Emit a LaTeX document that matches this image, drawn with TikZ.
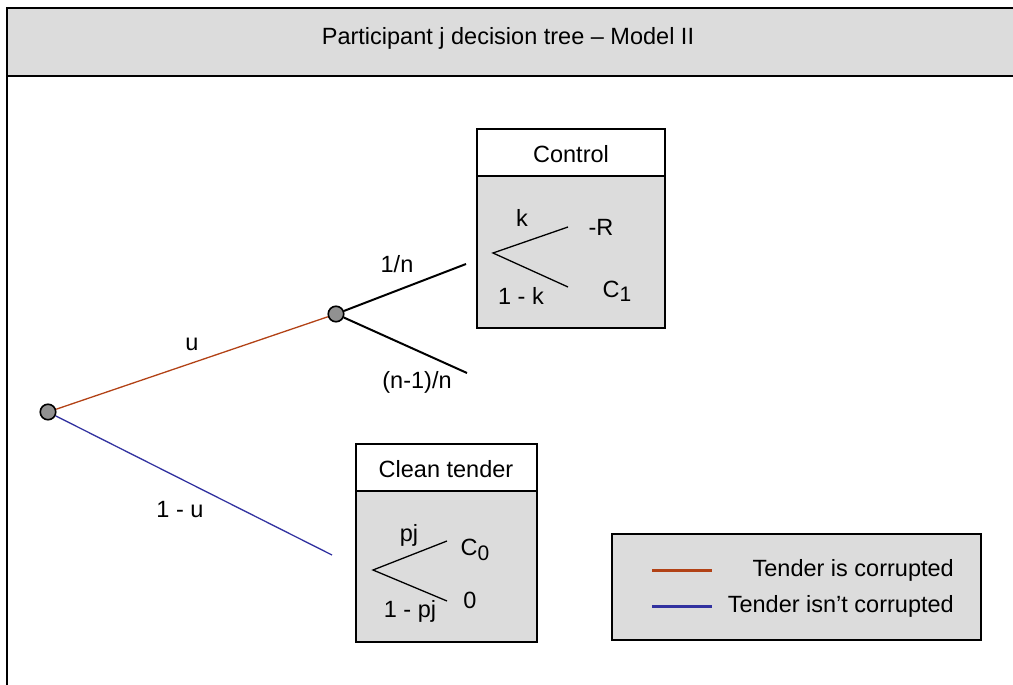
\documentclass[tikz,border=0pt]{standalone}
\usepackage{fontspec}
\setmainfont{Liberation Sans}
\begin{document}
\begin{tikzpicture}[x=1pt,y=-1pt,
  every node/.style={font=\fontsize{23.5}{28}\selectfont, inner sep=0pt},
  panel/.style={fill=panelgray},
  frame/.style={line width=2.6pt, draw=black},
  boxline/.style={line width=1.8pt, draw=black},
  chance/.style={circle, draw=black, fill=nodegray, line width=1.6pt, minimum size=15.5pt},
  branch/.style={line width=2pt, black},
  twig/.style={line width=1.3pt, black},
  yes/.style={line width=1.3pt, draw=corrupt},
  no/.style={line width=1.3pt, draw=clean},
  label/.style={text=black}]
\definecolor{panelgray}{RGB}{220,220,220}
\definecolor{nodegray}{RGB}{145,145,145}
\definecolor{corrupt}{RGB}{178,66,22}
\definecolor{clean}{RGB}{50,50,160}
\useasboundingbox (0,0) rectangle (1013,685);

% title band and outer frame
\fill[panel] (7,8) rectangle (1030,76);
\draw[frame] (7,700) -- (7,8) -- (1030,8);
\draw[frame] (7,76) -- (1030,76);
\node[label] (title) at (508,38) {Participant j decision tree -- Model II};

% main tree
\node[chance] (root) at (48,412) {};
\node[chance] (mid) at (336,314) {};
\coordinate (endA) at (466,264);
\coordinate (endB) at (467,373);
\coordinate (endC) at (332,555);
\draw[yes] (root) -- (mid);
\draw[no] (root) -- (endC);
\draw[branch] (mid) -- (endA);
\draw[branch] (mid) -- (endB);
\node[label] (lu) at (192,344) {u};
\node[label] (l1u) at (180,510) {1 - u};
\node[label] (l1n) at (397,264) {1/n};
\node[label] (lnn) at (417,382) {(n-1)/n};

% control box
\filldraw[boxline, fill=white] (477,129) rectangle (665,176);
\filldraw[boxline, fill=panelgray] (477,176) rectangle (665,328);
\node[label] (ctl) at (571,154) {Control};
\coordinate (cApex) at (493,253);
\coordinate (cUp) at (568,227);
\coordinate (cDn) at (568,287);
\draw[twig] (cUp) -- (cApex) -- (cDn);
\node[label] (ck) at (522,218) {k};
\node[label] (cR) at (601,227) {-R};
\node[label] (cC) at (617,291) {C\raisebox{-0.35ex}{\fontsize{21}{21}\selectfont 1}};
\node[label] (c1k) at (521,296) {1 - k};

% clean tender box
\filldraw[boxline, fill=white] (356,444) rectangle (537,491);
\filldraw[boxline, fill=panelgray] (356,491) rectangle (537,642);
\node[label] (cln) at (446,469) {Clean tender};
\coordinate (tApex) at (373,570);
\coordinate (tUp) at (447,541);
\coordinate (tDn) at (447,601);
\draw[twig] (tUp) -- (tApex) -- (tDn);
\node[label] (tp) at (409,535) {pj};
\node[label] (tC) at (475,550) {C\raisebox{-0.35ex}{\fontsize{21}{21}\selectfont 0}};
\node[label] (t0) at (470,600) {0};
\node[label] (t1p) at (410,611) {1 - pj};

% legend
\filldraw[boxline, fill=panelgray] (612,534) rectangle (981,640);
\coordinate (lgA1) at (652,570);
\coordinate (lgA2) at (712,570);
\coordinate (lgB1) at (652,606);
\coordinate (lgB2) at (712,606);
\draw[line width=3pt, corrupt] (lgA1) -- (lgA2);
\draw[line width=3pt, clean] (lgB1) -- (lgB2);
\node[label, anchor=east] (lgA) at (954,570) {Tender is corrupted};
\node[label, anchor=east] (lgB) at (954,606) {Tender isn’t corrupted};
\end{tikzpicture}
\end{document}
